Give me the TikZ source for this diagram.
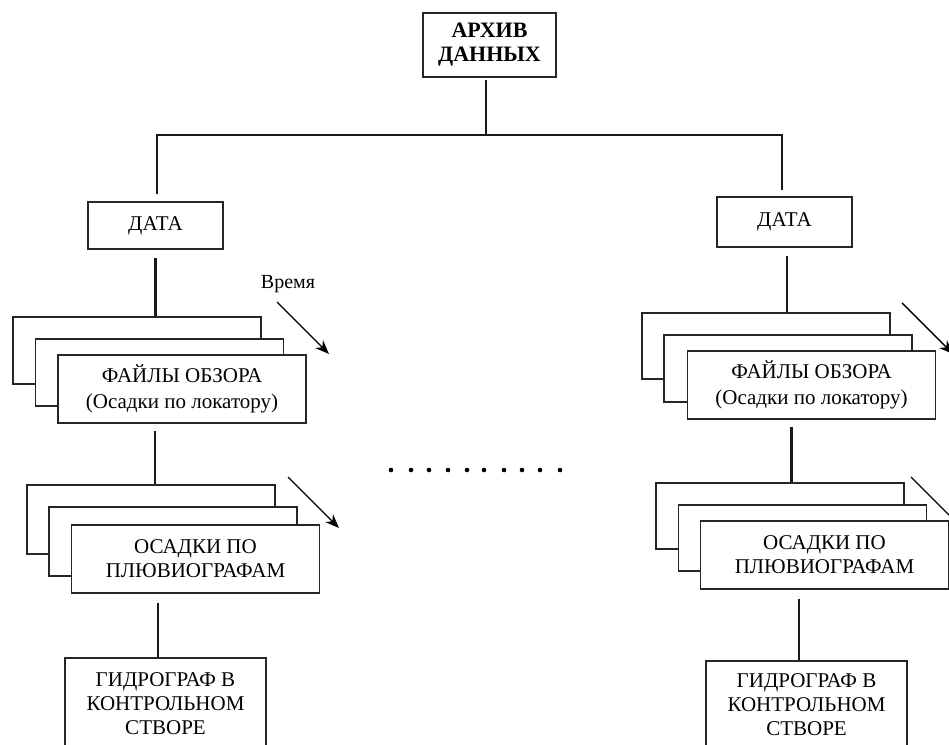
\documentclass[tikz,border=0pt]{standalone}
\usepackage{fontspec}
\setmainfont{Liberation Serif}
\usetikzlibrary{arrows.meta}
\begin{document}
\begin{tikzpicture}[x=1pt,y=-1pt,
  box/.style={draw=black!85, line width=1.1pt, fill=white, inner sep=0pt, align=center,
    font=\fontsize{21}{26}\selectfont},
  card/.style={box, minimum width=248pt, minimum height=67pt},
  conn/.style={line width=2.4pt, black!90},
  timearrow/.style={line width=1.4pt, -{Stealth[length=14pt,width=11pt]}}]
\useasboundingbox (0,0) rectangle (949,744);
\clip (0,0) rectangle (949,744);
\fill[white] (0,0) rectangle (949,744);

% top
\node[box, minimum width=133pt, minimum height=64pt, font=\bfseries\fontsize{22}{24}\selectfont]
  (archive) at (489.5,45) {АРХИВ\\ДАННЫХ};
\node[box, minimum width=135pt, minimum height=47pt] (dataL) at (155.5,225.5) {ДАТА};
\node[box, minimum width=135pt, minimum height=50pt] (dataR) at (784.5,222) {ДАТА};

% left stacks
\node[card] (fL1) at (137,350.5) {};
\node[card] (fL2) at (159.5,372.5) {};
\node[card, minimum height=68pt] (fL3) at (182,389) {ФАЙЛЫ ОБЗОРА\\(Осадки по локатору)};
\node[card, minimum height=69pt] (oL1) at (151,519.5) {};
\node[card, minimum height=69pt] (oL2) at (173,541.5) {};
\node[card, minimum height=68pt, font=\fontsize{21}{24}\selectfont] (oL3) at (195.5,559) {ОСАДКИ ПО\\ПЛЮВИОГРАФАМ};
\node[box, minimum width=201pt, minimum height=92pt, font=\fontsize{21}{24}\selectfont]
  (gL) at (165.5,704) {ГИДРОГРАФ В\\КОНТРОЛЬНОМ\\СТВОРЕ};

% right stacks
\node[card, minimum height=66pt] (fR1) at (766,346) {};
\node[card, minimum height=67pt] (fR2) at (788,368.5) {};
\node[card, minimum height=68pt] (fR3) at (811.5,385) {ФАЙЛЫ ОБЗОРА\\(Осадки по локатору)};
\node[card, minimum height=66pt] (oR1) at (780,516) {};
\node[card, minimum height=66pt] (oR2) at (802.5,538) {};
\node[card, minimum height=68pt, font=\fontsize{21}{24}\selectfont] (oR3) at (824.5,555) {ОСАДКИ ПО\\ПЛЮВИОГРАФАМ};
\node[box, minimum width=201pt, minimum height=88pt, font=\fontsize{21}{24}\selectfont]
  (gR) at (806.5,705) {ГИДРОГРАФ В\\КОНТРОЛЬНОМ\\СТВОРЕ};

% tree connectors
\coordinate (hub) at (486,135);
\coordinate (jL) at (157,135);
\coordinate (jR) at (782,135);
\draw[conn, shorten <=2pt] ([xshift=-3.5pt]archive.south) -- (hub);
\draw[conn, shorten <=7pt, shorten >=6pt] (jL |- dataL.north) -- (jL) -- (jR) -- (jR |- dataR.north);
\draw[conn, shorten <=8pt] (dataL.south) -- (dataL.south |- fL1.north);
\draw[conn, shorten <=8pt] ([xshift=2.5pt]dataR.south) -- ([xshift=2.5pt]dataR.south |- fR1.north);
\draw[conn, shorten <=7pt] ([xshift=-27pt]fL3.south) -- ([xshift=-27pt]fL3.south |- oL1.north);
\draw[conn, shorten <=7pt] ([xshift=-20pt]fR3.south) -- ([xshift=-20pt]fR3.south |- oR1.north);
\draw[conn, shorten <=9pt] ([xshift=-37.5pt]oL3.south) -- ([xshift=-37.5pt]oL3.south |- gL.north);
\draw[conn, shorten <=9pt] ([xshift=-25.5pt]oR3.south) -- ([xshift=-25.5pt]oR3.south |- gR.north);

% time arrows
\node[font=\fontsize{20}{22}\selectfont, inner sep=0pt] (time) at (288,284) {Время};
\coordinate (a1s) at (277,302); \coordinate (a1e) at (329,354);
\coordinate (a2s) at (288,477); \coordinate (a2e) at (339,528);
\coordinate (a3s) at (902,303); \coordinate (a3e) at (953,354);
\coordinate (a4s) at (911,477); \coordinate (a4e) at (962,528);
\draw[timearrow] (a1s) -- (a1e);
\draw[timearrow] (a2s) -- (a2e);
\draw[timearrow] (a3s) -- (a3e);
\draw[timearrow] (a4s) -- (a4e);

% dots
\foreach \x [count=\i] in {391,411,429,448,467,484,504,522,540,560}
  \fill (\x,470) circle (2.3pt) coordinate (dot\i);
\end{tikzpicture}
\end{document}
